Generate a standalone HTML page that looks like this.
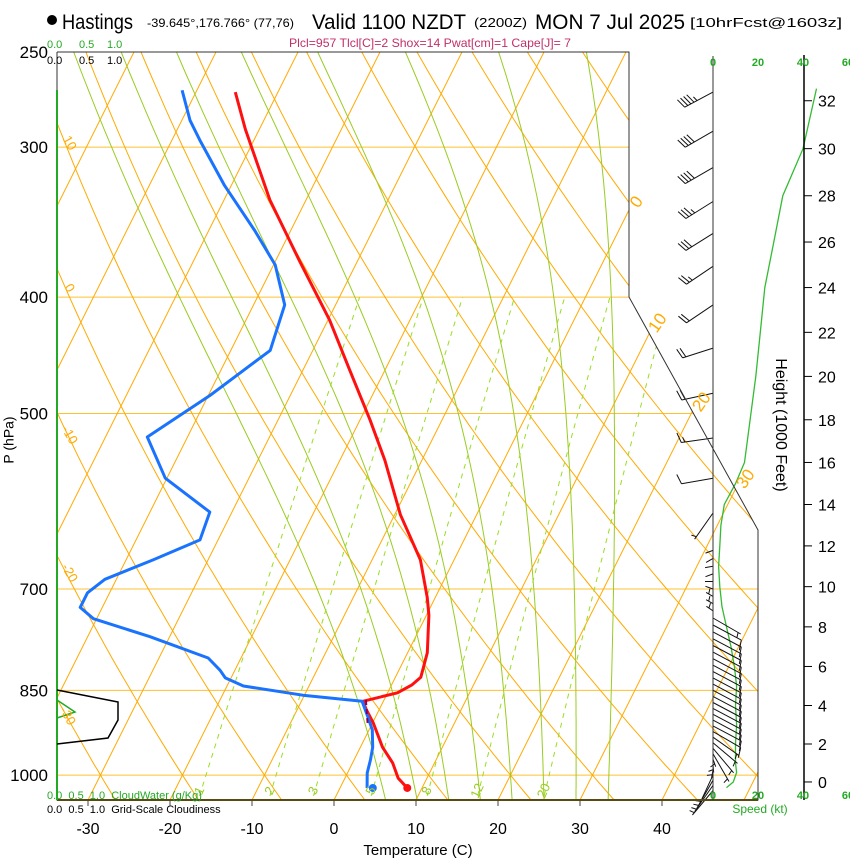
<!DOCTYPE html>
<html><head><meta charset="utf-8"><style>
html,body{margin:0;padding:0;background:#fff;}
svg{display:block;font-family:"Liberation Sans",sans-serif;}
</style></head><body>
<svg id="chart" width="850" height="860" viewBox="0 0 850 860" xmlns="http://www.w3.org/2000/svg">
<defs><clipPath id="pc"><polygon points="57,52 629,52 629,297 758,530 758,800 57,800"/></clipPath></defs>
<g id="grid" clip-path="url(#pc)"></g>
<g id="series"></g>
<g id="winds"></g>
<polyline points="57,52 629,52 629,297 758,530 758,800 57,800 57,52" fill="none" stroke="#333" stroke-width="1"/>
<line x1="57" y1="800" x2="758" y2="800" stroke="#5a4a10" stroke-width="2"/>
<line x1="57" y1="90" x2="57" y2="800" stroke="#22aa22" stroke-width="2"/>
<polyline points="57,690 118,702 118,720 108,738 57,744" fill="none" stroke="#000" stroke-width="1.5"/>
<polyline points="57,700 75,712 57,718" fill="none" stroke="#22aa22" stroke-width="1.5"/>
<line x1="713" y1="56" x2="713" y2="800" stroke="#333" stroke-width="1"/>
<line x1="804" y1="55" x2="804" y2="800" stroke="#000" stroke-width="1.5"/>
<g>
<circle cx="52" cy="20" r="5" fill="#000"/>
<text x="62" y="29" font-size="21" textLength="71" lengthAdjust="spacingAndGlyphs">Hastings</text>
<text x="147" y="27" font-size="12" textLength="147" lengthAdjust="spacingAndGlyphs">-39.645°,176.766° (77,76)</text>
<text x="312" y="29" font-size="21" textLength="154" lengthAdjust="spacingAndGlyphs">Valid 1100 NZDT</text>
<text x="474" y="27" font-size="13" textLength="53" lengthAdjust="spacingAndGlyphs">(2200Z)</text>
<text x="535" y="29" font-size="21" textLength="150" lengthAdjust="spacingAndGlyphs">MON 7 Jul 2025</text>
<text x="690" y="27" font-size="13" textLength="152" lengthAdjust="spacingAndGlyphs">[10hrFcst@1603z]</text>
<text x="289" y="47" font-size="12" fill="#c0306a" textLength="282" lengthAdjust="spacingAndGlyphs">Plcl=957 Tlcl[C]=2 Shox=14 Pwat[cm]=1 Cape[J]= 7</text>
</g>
<g font-size="11">
<text x="47" y="48" fill="#22aa22">0.0</text>
<text x="79" y="48" fill="#22aa22">0.5</text>
<text x="107" y="48" fill="#22aa22">1.0</text>
<text x="47" y="64" fill="#000">0.0</text>
<text x="79" y="64" fill="#000">0.5</text>
<text x="107" y="64" fill="#000">1.0</text>
<text x="47" y="799" fill="#22aa22">0.0 &#160;0.5 &#160;1.0 &#160;CloudWater (g/Kg)</text>
<text x="47" y="813" fill="#000">0.0 &#160;0.5 &#160;1.0 &#160;Grid-Scale Cloudiness</text>
</g>
<text x="10" y="440" font-size="14" transform="rotate(-90 10 440)" text-anchor="middle" dominant-baseline="middle">P (hPa)</text>
<text x="418" y="855" font-size="15" text-anchor="middle">Temperature (C)</text>
<text x="780" y="425" font-size="16" transform="rotate(90 780 425)" text-anchor="middle" dominant-baseline="middle">Height (1000 Feet)</text>
<text x="760" y="813" font-size="12" fill="#22aa22" text-anchor="middle">Speed (kt)</text>
<g id="labels"></g>
</svg>
<script>
// ---- data ----
const tempTicks=[-30,-20,-10,0,10,20,30,40];
const pressureLevels=[250,300,400,500,700,850,1000];
const heightTicks=[0,2,4,6,8,10,12,14,16,18,20,22,24,26,28,30,32];
const speedTicks=[0,20,40,60];
const isotherms=[-130,-120,-110,-100,-90,-80,-70,-60,-50,-40,-30,-20,-10,0,10,20,30,40,50];
const dryAdiabats=[-40,-30,-20,-10,0,10,20,30,40,50,60,70,80,90,100,110,120,130,140,150,160];
const moistAdiabats=[4,8,12,16,20,24,28,32];
const mixRatios=[1,2,3,5,8,12,20];
const tempP=[1025,1006,977,948,905,883,868,854,841,829,791,736,711,662,607,547,506,460,418,373,332,290,270];
const tempV=[8.2,6.5,4.9,2.7,0.1,-1.5,-2.5,1.2,2.5,3.1,2.4,0.3,-1.0,-4.1,-9.3,-14.5,-18.8,-24.3,-29.8,-37.1,-44.4,-51.7,-55.2];
const dewP=[1025,996,971,948,917,895,868,858,843,830,818,799,767,741,725,705,687,662,637,604,566,523,483,443,406,376,352,323,296,285,269];
const dewV=[3.3,2.4,2.0,1.5,0.4,-0.9,-2.6,-10.2,-18.0,-20.7,-21.8,-24.0,-32.4,-40.4,-42.7,-42.7,-41.4,-36.7,-32.2,-32.7,-40.2,-44.9,-39.8,-35.2,-36.2,-39.8,-44.4,-50.8,-56.6,-59.0,-61.8];
const sfcT=8.2, sfcTd=4.0, sfcP=1025;
const barbP=[270,291,312,333,354,377,406,441,481,524,566,605,650,660,670,680,690,700,710,720,730,740,750,760,770,780,790,800,810,820,830,840,850,860,870,880,890,900,910,920,930,940,950,960,970,980,990,1000,1010,1020,1030];
const barbDir=[242,240,240,238,238,236,236,252,258,262,260,215,250,240,260,250,270,290,300,300,305,120,118,118,118,118,118,118,118,118,118,118,118,118,118,118,118,118,118,120,125,130,140,150,160,175,190,205,210,215,220];
const barbSpd=[45,40,40,35,30,25,20,20,20,15,10,5,2,2,2,2,2,2,3,3,4,7,8,8,9,9,10,10,10,10,11,11,10,10,10,10,10,9,9,8,7,6,5,5,4,4,4,5,5,6,6];
const spdH=[-0.3,0,0.5,1,2,3,4,5,6,7,8,9,10,11,12,13,14,15,16,18,20,22,24,26,28,30,32.5];
const spdV=[6,9,10.5,10,10,10.5,10,10.5,9.5,8,6,4,3,2.5,3,3.5,5,10,14,16.5,19,21,23,27,31,40,46];
// ---- axes ----
function yP(p){return 52+521.6*Math.log(p/250);}
function xT(T,y){return 334+8.2*T+0.5*(800-y);}
function hToP(k){const m=k*304.8;return 1013.25*Math.pow(1-0.0065*m/288.15,5.2559);}
function xS(s){return 713+s*2.25;}
const NS='http://www.w3.org/2000/svg';
function mk(par,tag,at){const e=document.createElementNS(NS,tag);for(const k in at)e.setAttribute(k,at[k]);document.getElementById(par).appendChild(e);return e;}
function pts(arr){return arr.map(a=>a[0].toFixed(1)+','+a[1].toFixed(1)).join(' ');}
const ORG='#ffaa00';
pressureLevels.forEach(p=>{if(p===250)return;const y=yP(p);
 const e=mk('grid','line',{x1:57,y1:y,x2:760,y2:y,stroke:'#ffc030','stroke-width':1});
 
 
 const t=mk('labels','text',{x:48,y:y+6,'font-size':17,'text-anchor':'end'});t.textContent=p;
 
 });
{const t=mk('labels','text',{x:48,y:58,'font-size':17,'text-anchor':'end'});t.textContent='250';
 
 }
isotherms.forEach(T=>{const e=mk('grid','line',{x1:xT(T,800),y1:800,x2:xT(T,52),y2:52,stroke:ORG,'stroke-width':1});
 
 });
dryAdiabats.forEach(th=>{const a=[];for(let p=1060;p>=245;p-=10){const T=(th+273.15)*Math.pow(p/1000,0.2857)-273.15;const y=yP(p);a.push([xT(T,y),y]);}
 const e=mk('grid','polyline',{points:pts(a),fill:'none',stroke:ORG,'stroke-width':1});
 
 });
function es(T){return 6.112*Math.exp(17.67*(T-273.15)/(T-29.65));}
function dTdp(p,T){const rs=0.622*es(T)/(p-es(T));const L=2.5e6;return (1/p)*(287*T+L*rs)/(1004+L*L*rs*0.622/(287*T*T));}
moistAdiabats.forEach(tw=>{let Tu=tw+273.15;for(let q=1000;q<1060;q+=2){Tu+=dTdp(q,Tu)*2;}
 const a=[];let Tc=Tu;for(let q=1060;q>=250;q-=2){if(q%10===0){const y=yP(q);a.push([xT(Tc-273.15,y),y]);}Tc-=dTdp(q,Tc)*2;}
 const e=mk('grid','polyline',{points:pts(a),fill:'none',stroke:'#99cc22','stroke-width':1});
 
 });
mixRatios.forEach(w=>{const a=[];for(let p=1060;p>=400;p-=10){const e=w*p/(622+w);const l=Math.log(e/6.112);const Td=243.5*l/(17.67-l);const y=yP(p);a.push([xT(Td,y),y]);}
 const e=mk('grid','polyline',{points:pts(a),fill:'none',stroke:'#99dd22','stroke-width':1,'stroke-dasharray':'5,5'});
 
 
 const p=1030,ee=w*p/(622+w),l=Math.log(ee/6.112),Td=243.5*l/(17.67-l),y=yP(p)+2,x=xT(Td,y)+3;
 const t=mk('labels','text',{x:x,y:y,'font-size':13,fill:'#99cc22','text-anchor':'middle',transform:'rotate(-65 '+x+' '+y+')'});t.textContent=w;
 
 });
[[10,66,145],[0,66,290],[-10,66,437],[-20,66,575],[-30,64,718]].forEach(d=>{const t=mk('labels','text',{x:d[1],y:d[2],'font-size':13,fill:ORG,'text-anchor':'middle',transform:'rotate(60 '+d[1]+' '+d[2]+')'});t.textContent=d[0];
 
 });
[[0,641,205],[10,662,326],[20,706,405],[30,750,482]].forEach(d=>{const t=mk('labels','text',{x:d[1],y:d[2],'font-size':17,fill:ORG,'text-anchor':'middle',transform:'rotate(-55 '+d[1]+' '+d[2]+')'});t.textContent=d[0];
 
 });
tempTicks.forEach(T=>{const x=xT(T,800);const l=mk('labels','line',{x1:x,y1:800,x2:x,y2:806,stroke:'#444'});
 
 
 const t=mk('labels','text',{x:x,y:834,'font-size':16,'text-anchor':'middle'});t.textContent=T;
 
 });
heightTicks.forEach(h=>{const y=yP(hToP(h));const l=mk('labels','line',{x1:804,y1:y,x2:812,y2:y,stroke:'#000'});
 
 
 const t=mk('labels','text',{x:818,y:y+6,'font-size':16});t.textContent=h;
 
 });
speedTicks.forEach(s=>{[66,799].forEach(y=>{const t=mk('labels','text',{x:xS(s),y:y,'font-size':11,'font-weight':'bold',fill:'#22aa22','text-anchor':'middle'});t.textContent=s;
 
 });});
function prof(P,V,col,name){const a=P.map((p,i)=>{const y=yP(p);return [xT(V[i],y),y];});
 const e=mk('series','polyline',{points:pts(a),fill:'none',stroke:col,'stroke-width':3,'stroke-linejoin':'round'});
 
 }
prof(tempP,tempV,'#ff1010','temperature-line');
prof(dewP,dewV,'#1a73ff','dewpoint-line');
{const y=yP(sfcP);const c=mk('series','circle',{cx:xT(sfcT,y),cy:y,r:4,fill:'#ff1010'});
 
 
 const d=mk('series','circle',{cx:xT(sfcTd,y),cy:y,r:4,fill:'#1a73ff'});
 
 }
{const y1=yP(866),y2=yP(905);const e=mk('series','line',{x1:xT(-2.2,y1),y1:y1,x2:xT(-0.6,y2),y2:y2,stroke:'#800060','stroke-width':2,'stroke-dasharray':'5,4'});
 
 }
{const a=spdH.map((h,i)=>[xS(spdV[i]),yP(hToP(h))]);
 const e=mk('winds','polyline',{points:pts(a),fill:'none',stroke:'#33bb33','stroke-width':1.3});
 
 }
barbP.forEach((p,i)=>{const y=yP(p),d=barbDir[i]*Math.PI/180;const L=barbSpd[i]<5?8:32;const ux=Math.sin(d),uy=-Math.cos(d);
 const ex=713+ux*L,ey=y+uy*L;let s='M713,'+y.toFixed(1)+' L'+ex.toFixed(1)+','+ey.toFixed(1);
 let sp=Math.round(barbSpd[i]/5)*5,k=0;const px=-uy,py=ux;
 while(sp>=10){const bx=ex-ux*k*3.5,by=ey-uy*k*3.5;s+=' M'+bx.toFixed(1)+','+by.toFixed(1)+' l'+((px*10+ux*3)).toFixed(1)+','+((py*10+uy*3)).toFixed(1);sp-=10;k++;}
 if(sp>=5){const bx=ex-ux*(k*3.5+(k?0:3)),by=ey-uy*(k*3.5+(k?0:3));s+=' M'+bx.toFixed(1)+','+by.toFixed(1)+' l'+((px*5+ux*1.5)).toFixed(1)+','+((py*5+uy*1.5)).toFixed(1);}
 const e=mk('winds','path',{d:s,fill:'none',stroke:'#111','stroke-width':1});
 
 });
</script>
</body></html>
